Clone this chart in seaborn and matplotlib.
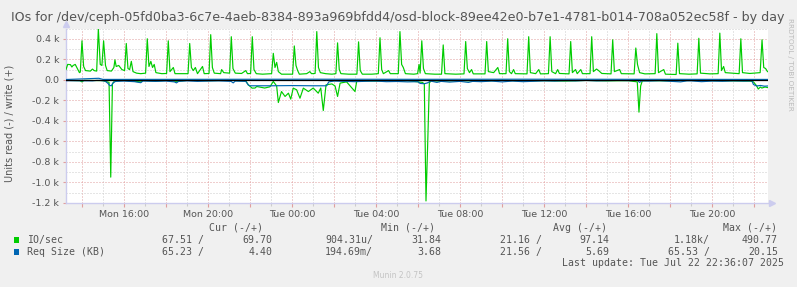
import matplotlib
matplotlib.use("Agg")
import matplotlib.pyplot as plt
from matplotlib.ticker import MultipleLocator, FixedLocator
import seaborn as sns
import pandas as pd

# ---------------- data (hours since Mon 00:00) ----------------
io_write_t = [13.24, 13.32, 13.45, 13.52, 13.58, 13.68, 13.78, 13.88, 13.92, 14.00, 14.08, 14.17, 14.40, 14.50,
              14.58, 14.70, 14.78, 14.87, 14.95, 15.03, 15.12, 15.20, 15.40, 15.52, 15.57, 15.63, 15.75, 15.90,
              16.03, 16.11, 16.19, 16.27, 16.35, 16.43, 16.60, 16.80, 17.03, 17.11, 17.19, 17.28, 17.36, 17.44,
              17.52, 17.80, 18.03, 18.11, 18.19, 18.35, 18.43, 18.70, 19.05, 19.13, 19.21, 19.30, 19.40, 19.50,
              19.74, 19.82, 20.05, 20.13, 20.21, 20.30, 20.60, 20.65, 20.75, 21.03, 21.11, 21.19, 21.30, 21.60,
              21.80, 21.88, 22.03, 22.11, 22.19, 22.30, 22.60, 23.03, 23.11, 23.19, 23.27, 23.35, 23.50, 24.03,
              24.11, 24.19, 24.27, 24.35, 24.70, 24.85, 24.93, 25.10, 25.18, 25.26, 25.35, 25.60, 25.90, 26.09,
              26.17, 26.25, 26.33, 26.70, 27.09, 27.17, 27.25, 27.35, 27.80, 28.11, 28.19, 28.27, 28.35, 28.60,
              28.68, 29.06, 29.14, 29.22, 29.30, 29.40, 29.80, 29.98, 30.05, 30.10, 30.18, 30.26, 30.35, 30.80,
              31.12, 31.20, 31.28, 31.80, 32.19, 32.27, 32.35, 32.45, 32.55, 32.63, 33.19, 33.27, 33.35, 33.60,
              33.80, 33.88, 34.19, 34.27, 34.35, 34.45, 34.55, 34.63, 35.19, 35.27, 35.35, 35.60, 35.75, 35.83,
              36.21, 36.29, 36.37, 36.55, 36.65, 36.73, 37.19, 37.27, 37.35, 37.50, 37.58, 37.75, 37.83, 38.19,
              38.27, 38.35, 38.50, 38.60, 38.75, 39.19, 39.27, 39.35, 39.60, 39.68, 40.29, 40.37, 40.45, 40.55,
              40.80, 41.29, 41.37, 41.45, 41.70, 41.78, 42.29, 42.37, 42.45, 42.90, 43.29, 43.37, 43.45, 43.90,
              44.29, 44.37, 44.45, 44.55, 44.63, 45.29, 45.37, 45.45, 45.80, 46.29, 46.38, 46.46, 46.55, 46.64]
io_write_v = [100, 150, 148, 125, 140, 150, 110, 70, 75, 380, 130, 90, 85, 105,
              90, 85, 497, 150, 140, 380, 140, 90, 85, 120, 195, 130, 140, 100,
              90, 354, 110, 100, 180, 80, 65, 60, 65, 400, 130, 180, 120, 150,
              70, 60, 62, 380, 80, 120, 60, 60, 60, 354, 120, 90, 120, 60,
              130, 60, 62, 440, 120, 65, 60, 100, 70, 65, 420, 110, 65, 62,
              90, 60, 62, 420, 100, 60, 55, 60, 258, 120, 170, 80, 55, 55,
              330, 140, 90, 55, 60, 80, 60, 62, 470, 120, 70, 60, 55, 60,
              360, 100, 60, 55, 55, 370, 90, 55, 55, 60, 410, 100, 60, 90,
              60, 60, 470, 150, 120, 60, 55, 60, 150, 65, 380, 110, 60, 55,
              55, 340, 60, 55, 58, 373, 110, 70, 100, 58, 58, 373, 80, 70,
              120, 60, 60, 400, 80, 60, 100, 60, 58, 420, 70, 60, 100, 58,
              60, 420, 80, 60, 100, 62, 58, 373, 70, 100, 60, 100, 60, 60,
              420, 80, 105, 90, 62, 58, 390, 80, 100, 60, 58, 310, 150, 70,
              58, 60, 450, 70, 100, 55, 52, 357, 60, 55, 58, 405, 65, 58,
              60, 455, 90, 130, 70, 60, 400, 70, 62, 70, 390, 120, 110, 80]

io_read_t = [13.24, 13.90, 14.00, 14.10, 15.00, 15.29, 15.37, 15.45, 15.55, 16.00, 16.80, 16.90, 17.50, 18.00,
             18.50, 19.00, 20.00, 21.00, 21.80, 21.92, 22.10, 22.24, 22.32, 22.50, 22.70, 22.95, 23.11, 23.27,
             23.35, 23.50, 23.67, 23.83, 23.94, 24.06, 24.22, 24.38, 24.54, 24.78, 25.01, 25.25, 25.37, 25.49,
             25.62, 25.90, 26.05, 26.17, 26.29, 26.60, 27.00, 27.08, 27.50, 28.00, 28.60, 29.00, 29.50, 30.00,
             30.21, 30.30, 30.38, 30.46, 30.54, 30.62, 31.00, 32.00, 33.00, 34.00, 35.00, 36.00, 37.00, 38.00,
             39.00, 40.00, 40.44, 40.52, 40.60, 40.68, 41.00, 42.00, 43.00, 44.00, 45.00, 45.80, 45.97, 46.12,
             46.20, 46.30, 46.37, 46.52, 46.64]
io_read_v = [5, 8, 20, 5, 8, 25, 948, 40, 10, 5, 20, 5, 12, 5,
             15, 5, 8, 5, 10, 49, 81, 80, 65, 72, 80, 68, 16, 60,
             221, 114, 162, 130, 188, 81, 97, 179, 81, 114, 80, 130, 80, 299,
             49, 40, 60, 162, 32, 20, 114, 16, 10, 12, 8, 15, 8, 20,
             25, 40, 1180, 630, 30, 10, 12, 8, 12, 5, 10, 8, 12, 6,
             10, 8, 20, 315, 60, 10, 8, 10, 6, 8, 10, 12, 20, 58,
             90, 70, 80, 70, 75]

req_write_t = [13.24, 14.80, 15.00, 20.00, 25.00, 30.00, 35.00, 40.00, 46.64]
req_write_v = [3, 15, 4, 5, 6, 5, 6, 5, 4]

req_read_t = [13.24, 14.50, 14.72, 14.86, 15.10, 15.24, 15.32, 15.40, 15.48, 15.60, 16.00, 16.50, 16.80, 16.90,
              17.50, 18.00, 18.40, 18.50, 18.60, 19.00, 19.50, 20.00, 20.50, 21.10, 21.20, 21.30, 21.80, 21.92,
              22.00, 23.00, 24.00, 25.00, 25.65, 25.75, 26.00, 26.50, 27.00, 27.50, 28.00, 28.50, 29.00, 29.50,
              30.00, 30.10, 30.30, 30.45, 30.60, 30.90, 31.10, 31.50, 32.00, 32.40, 32.60, 33.00, 33.50, 34.00,
              34.50, 35.00, 35.50, 36.00, 36.50, 37.00, 37.50, 38.00, 38.50, 39.00, 39.50, 40.00, 40.45, 40.55,
              40.65, 41.00, 41.50, 42.00, 42.50, 42.80, 43.00, 43.50, 44.00, 44.50, 45.00, 45.50, 45.90, 45.97,
              46.12, 46.30, 46.50, 46.64]
req_read_v = [8, 10, 5, 5, 12, 35, 55, 58, 30, 15, 12, 18, 28, 12,
              15, 12, 20, 30, 15, 10, 15, 12, 10, 15, 30, 12, 15, 50,
              58, 58, 56, 58, 58, 20, 12, 15, 18, 14, 12, 18, 16, 20,
              18, 35, 38, 30, 12, 25, 15, 22, 15, 25, 15, 18, 12, 20,
              12, 18, 14, 10, 12, 8, 10, 6, 10, 8, 6, 8, 5, 25,
              10, 12, 8, 14, 20, 10, 10, 18, 12, 14, 10, 12, 10, 45,
              60, 55, 62, 60]

x_tick_pos = [16, 20, 24, 28, 32, 36, 40, 44]
x_tick_labels = ["Mon 16:00", "Mon 20:00", "Tue 00:00", "Tue 04:00",
                 "Tue 08:00", "Tue 12:00", "Tue 16:00", "Tue 20:00"]
y_tick_pos = [400, 200, 0, -200, -400, -600, -800, -1000, -1200]
y_tick_labels = ["0.4 k", "0.2 k", "0.0", "-0.2 k", "-0.4 k", "-0.6 k",
                 "-0.8 k", "-1.0 k", "-1.2 k"]

title = ("IOs for /dev/ceph-05fd0ba3-6c7e-4aeb-8384-893a969bfdd4/"
         "osd-block-89ee42e0-b7e1-4781-b014-708a052ec58f - by day")
ylabel = "Units read (-) / write (+)"
legend_names = ["IO/sec", "Req Size (KB)"]
legend_colors = ["#00CC00", "#0066B3"]
cur_read = ["67.51", "65.23"]
cur_write = ["69.70", "4.40"]
min_read = ["904.31u", "194.69m"]
min_write = ["31.84", "3.68"]
avg_read = ["21.16", "21.56"]
avg_write = ["97.14", "5.69"]
max_read = ["1.18k", "65.53"]
max_write = ["490.77", "20.15"]
last_update = "Last update: Tue Jul 22 22:36:07 2025"
munin_version = "Munin 2.0.75"
rrd_credit = "RRDTOOL / TOBI OETIKER"

# ---------------- figure ----------------
W, H = 797, 287
BG = "#F0F0F0"
TXT = "#555555"
fig = plt.figure(figsize=(W / 100, H / 100), dpi=100, facecolor=BG)
L, R, T, B = 66, 767.5, 28.5, 203
ax = fig.add_axes([L / W, 1 - B / H, (R - L) / W, (B - T) / H])
ax.set_facecolor("white")

df_w = pd.DataFrame({"t": io_write_t, "v": io_write_v})
df_r = pd.DataFrame({"t": io_read_t, "v": [-v for v in io_read_v]})
df_qw = pd.DataFrame({"t": req_write_t, "v": req_write_v})
df_qr = pd.DataFrame({"t": req_read_t, "v": [-v for v in req_read_v]})

green, blue = legend_colors
LW = 0.85
sns.lineplot(data=df_w, x="t", y="v", ax=ax, color=green, lw=LW, estimator=None, sort=False, zorder=3)
sns.lineplot(data=df_r, x="t", y="v", ax=ax, color=green, lw=LW, estimator=None, sort=False, zorder=3)
sns.lineplot(data=df_qw, x="t", y="v", ax=ax, color=blue, lw=LW, estimator=None, sort=False, zorder=4)
sns.lineplot(data=df_qr, x="t", y="v", ax=ax, color=blue, lw=LW, estimator=None, sort=False, zorder=4)
ax.axhline(0, color="black", lw=0.9, zorder=5)

ax.set_xlim(13.24, 46.64)
ax.set_ylim(-1200, 500)

# ticks
lab_map = dict(zip(x_tick_pos, x_tick_labels))
major_x = [h for h in range(14, 47, 2)]
ax.xaxis.set_major_locator(FixedLocator(major_x))
ax.set_xticklabels([lab_map.get(h, "") for h in major_x])
ax.xaxis.set_minor_locator(MultipleLocator(1))
ax.yaxis.set_major_locator(FixedLocator(y_tick_pos))
ax.set_yticklabels(y_tick_labels)
ax.yaxis.set_minor_locator(MultipleLocator(100))

MAJ = (0.88, 0.62, 0.62)
MIN = (0.80, 0.80, 0.80)
ax.grid(which="major", color=MAJ, lw=0.72, ls=(0, (1, 2)), zorder=1)
ax.grid(which="minor", color=MIN, lw=0.72, ls=(0, (1, 2)), zorder=1)
ax.set_axisbelow(True)

ax.tick_params(axis="x", which="major", length=3, width=0.8, color=MAJ, labelsize=6.8,
               labelcolor=TXT, pad=2)
ax.tick_params(axis="x", which="minor", length=2, width=0.8, color=MIN)
ax.tick_params(axis="y", which="major", length=2, width=0.8, color=MAJ, labelsize=6.8,
               labelcolor=TXT, pad=3)
ax.tick_params(axis="y", which="minor", length=0)
ax.set_xlabel("")
ax.set_ylabel("")

AXC = "#CCCCEE"
for s in ["top", "right"]:
    ax.spines[s].set_visible(False)
for s in ["left", "bottom"]:
    ax.spines[s].set_color(AXC)
    ax.spines[s].set_linewidth(1.0)
ax.plot([0], [1.025], marker="^", ms=4, color=AXC, transform=ax.transAxes, clip_on=False)
ax.plot([1.007], [0], marker=">", ms=4, color=AXC, transform=ax.transAxes, clip_on=False)


def px(x, y):
    return x / W, 1 - y / H


fig.text(*px(398, 18), title, ha="center", va="center", fontsize=9.1, color=TXT)
fig.text(*px(10, 123), ylabel, ha="center", va="center", rotation=90, fontsize=7, color=TXT)
fig.text(*px(790, 18), rrd_credit, ha="center", va="top", rotation=270, fontsize=5.2, color="#BBBBBB")

mono = dict(family="DejaVu Sans Mono", fontsize=7.1, color=TXT, va="center")
hdr_y = 228
fig.text(*px(209, hdr_y), "Cur (-/+)", ha="left", **mono)
fig.text(*px(381, hdr_y), "Min (-/+)", ha="left", **mono)
fig.text(*px(552.7, hdr_y), "Avg (-/+)", ha="left", **mono)
fig.text(*px(723.3, hdr_y), "Max (-/+)", ha="left", **mono)

rows_y = [240, 252]
for i in range(2):
    y = rows_y[i]
    fig.patches.append(plt.Rectangle(px(13.5, y + 2.8), 5.5 / W, 5.5 / H, transform=fig.transFigure,
                                     facecolor=legend_colors[i], edgecolor="none"))
    fig.text(*px(26.7, y), legend_names[i], ha="left", **mono)
    fig.text(*px(204.5, y), cur_read[i] + " /", ha="right", **mono)
    fig.text(*px(272.5, y), cur_write[i], ha="right", **mono)
    fig.text(*px(373, y), min_read[i] + "/", ha="right", **mono)
    fig.text(*px(441.5, y), min_write[i], ha="right", **mono)
    fig.text(*px(541.5, y), avg_read[i] + " /", ha="right", **mono)
    fig.text(*px(609.5, y), avg_write[i], ha="right", **mono)
    sep = "/" if max_read[i].endswith("k") else " /"
    fig.text(*px(709.5, y), max_read[i] + sep, ha="right", **mono)
    fig.text(*px(778, y), max_write[i], ha="right", **mono)

fig.text(*px(561.7, 263.5), last_update, ha="left", **mono)
fig.text(*px(398, 276), munin_version, ha="center", va="center", fontsize=5.5, color="#C4C4C4")

fig.savefig("out.png", dpi=100, facecolor=BG)
